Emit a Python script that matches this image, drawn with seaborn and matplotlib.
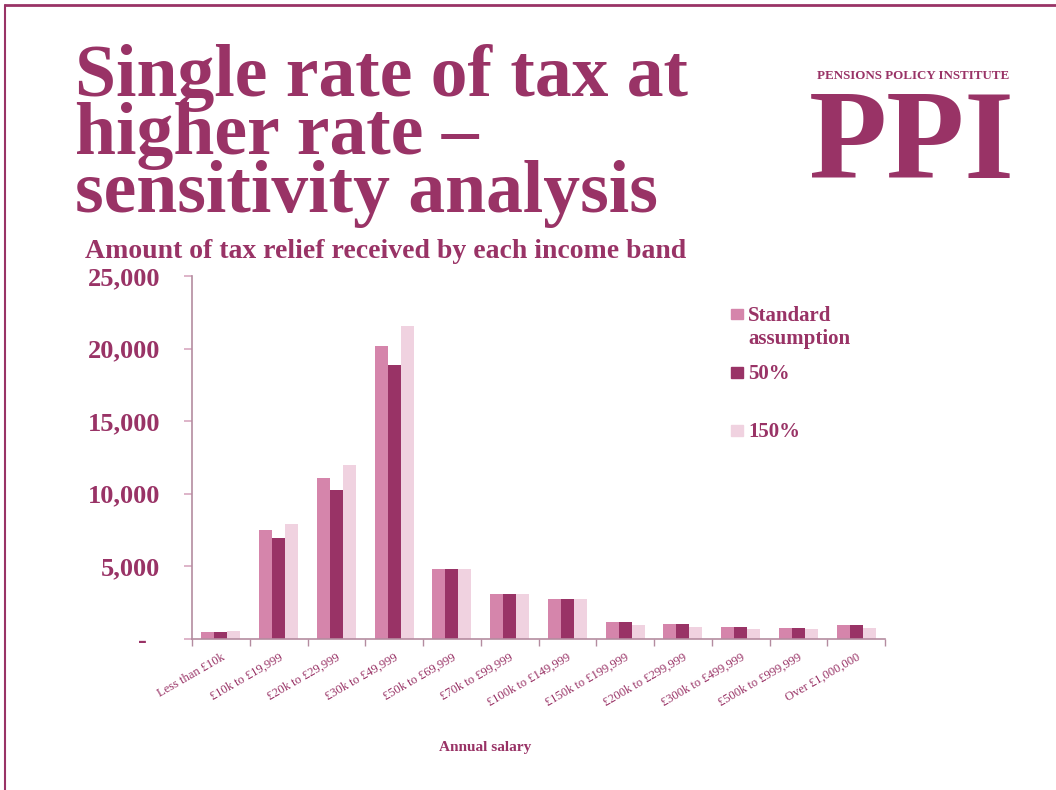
import numpy as np
import pandas as pd
import matplotlib
matplotlib.use("Agg")
import matplotlib.pyplot as plt
from matplotlib.patches import Rectangle
from matplotlib.lines import Line2D
import seaborn as sns

# Income bands (annual salary)
bands = ["Less than £10k", "£10k to £19,999", "£20k to £29,999", "£30k to £49,999",
         "£50k to £69,999", "£70k to £99,999", "£100k to £149,999", "£150k to £199,999",
         "£200k to £299,999", "£300k to £499,999", "£500k to £999,999", "Over £1,000,000"]

# Tax relief received by each band under each assumption
standard = [500, 7500, 11100, 20200, 4850, 3100, 2750, 1150, 1030, 860, 780, 940]
pct50 = [500, 6950, 10250, 18900, 4850, 3100, 2750, 1150, 1030, 860, 780, 940]
pct150 = [550, 7950, 12000, 21550, 4850, 3100, 2750, 990, 850, 710, 690, 780]

series_names = ["Standard\nassumption", "50%", "150%"]
series_colors = ["#D585AB", "#993366", "#F0D2E0"]
yticks = [0, 5000, 10000, 15000, 20000, 25000]
ytick_labels = ["-  ", "5,000", "10,000", "15,000", "20,000", "25,000"]

TEXT = "#993366"
AXIS = "#B48CA0"

df = pd.DataFrame({
    "band": bands * 3,
    "series": [series_names[0]] * 12 + [series_names[1]] * 12 + [series_names[2]] * 12,
    "value": standard + pct50 + pct150,
})

sns.set_theme(style="white")
plt.rcParams["font.family"] = ["Liberation Serif", "DejaVu Serif"]

fig = plt.figure(figsize=(10.56, 7.9), dpi=100)
ax = fig.add_axes([192 / 1056, 1 - 639 / 790, 693 / 1056, 363 / 790])

sns.barplot(data=df, x="band", y="value", hue="series", order=bands,
            hue_order=series_names, palette=series_colors, width=0.675,
            saturation=1, ax=ax, legend=False, linewidth=0)

ax.set_xlim(-0.5, len(bands) - 0.5)
ax.set_ylim(0, 25000)
ax.set_yticks(yticks)
ax.set_yticklabels(ytick_labels, fontsize=19, fontweight="bold", color=TEXT)
ax.tick_params(axis="y", direction="out", length=6, width=1.2, color="#D8A8C0", pad=17, left=True)
ax.set_xticks(range(len(bands)))
ax.set_xticklabels(bands, rotation=30, ha="right", rotation_mode="anchor",
                   fontsize=9, color=TEXT)
ax.tick_params(axis="x", length=0, pad=9)
ax.set_xticks(np.arange(-0.5, len(bands), 1), minor=True)
ax.tick_params(axis="x", which="minor", direction="out", length=5, width=1, color=AXIS, bottom=True)

for side in ["top", "right"]:
    ax.spines[side].set_visible(False)
for side in ["left", "bottom"]:
    ax.spines[side].set_color(AXIS)
    ax.spines[side].set_linewidth(1.2)
ax.set_xlabel("")
ax.set_ylabel("")

fig.text(485 / 1056, 1 - 751 / 790, "Annual salary", ha="center", va="baseline",
         fontsize=11, fontweight="bold", color=TEXT)

# Legend
leg_items = [(314, series_names[0]), (372, series_names[1]), (430, series_names[2])]
for (ypx, name), col in zip(leg_items, series_colors):
    fig.patches.append(Rectangle((731 / 1056, 1 - (ypx + 5.5) / 790), 11.5 / 1056, 11 / 790,
                                 transform=fig.transFigure, color=col, figure=fig))
    fig.text(748 / 1056, 1 - (ypx - 8) / 790, name, ha="left", va="top",
             fontsize=15, fontweight="bold", color=TEXT, linespacing=1.2)

# Titles
fig.text(75 / 1056, 1 - 212 / 790, "Single rate of tax at\nhigher rate –\nsensitivity analysis",
         ha="left", va="baseline", fontsize=53, fontweight="bold", color=TEXT,
         linespacing=0.81)
fig.text(85 / 1056, 1 - 258 / 790, "Amount of tax relief received by each income band",
         ha="left", va="baseline", fontsize=20, fontweight="bold", color=TEXT)

# Logo
fig.text(913 / 1056, 1 - 79 / 790, "PENSIONS POLICY INSTITUTE", ha="center", va="baseline",
         fontsize=9.4, color=TEXT, fontweight="bold")
fig.text(912 / 1056, 1 - 178 / 790, "PPI", ha="center", va="baseline",
         fontsize=92, color=TEXT, fontweight="bold")

# Frame
fig.add_artist(Line2D([5 / 1056, 1], [1 - 5 / 790, 1 - 5 / 790], transform=fig.transFigure,
                      color=TEXT, linewidth=2))
fig.add_artist(Line2D([5 / 1056, 5 / 1056], [0, 1 - 5 / 790], transform=fig.transFigure,
                      color=TEXT, linewidth=1.5))

fig.savefig("out.png", dpi=100, facecolor="white")
